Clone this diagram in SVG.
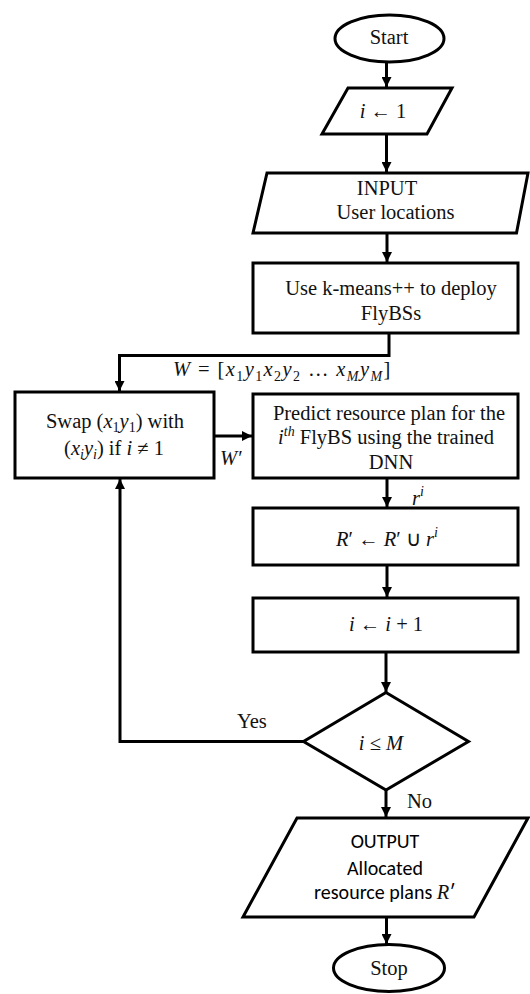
<svg xmlns="http://www.w3.org/2000/svg" width="530" height="994" viewBox="0 0 530 994">
  <defs>
    <marker id="arrow" markerUnits="userSpaceOnUse" markerWidth="10" markerHeight="10" refX="10" refY="5" orient="auto">
      <path d="M0,0 L10,5 L0,10 z" fill="#000"/>
    </marker>
  </defs>
  <style>
    .shape{fill:#fff;stroke:#000;stroke-width:3;stroke-linejoin:miter}
    .conn{fill:none;stroke:#000;stroke-width:3;marker-end:url(#arrow)}
    .t{font-family:"Liberation Serif","Times New Roman",serif;font-size:20.5px;fill:#111}
    .m{font-style:italic}
    .c{text-anchor:middle}
    .sub{font-size:14px}
    .wide{letter-spacing:1.4px}
    .sans{font-family:Carlito,Lato,"Liberation Sans",sans-serif;font-size:20px}
  </style>
  <rect width="530" height="994" fill="#fff"/>

  <!-- connectors -->
  <g id="connectors">
    <path class="conn" d="M386.5,62 V87"/>
    <path class="conn" d="M386.5,134 V172"/>
    <path class="conn" d="M387,233 V262"/>
    <path class="conn" d="M389,333 V355.5 H119.5 V391"/>
    <path class="conn" d="M214,436 H252"/>
    <path class="conn" d="M387,478 V507"/>
    <path class="conn" d="M387,565 V597"/>
    <path class="conn" d="M386,652 V692"/>
    <path class="conn" d="M304,741.5 H120 V479"/>
    <path class="conn" d="M386,790 V817"/>
    <path class="conn" d="M386.5,917 V944"/>
    <text class="t wide" x="173" y="376"><tspan class="m">W</tspan> = [<tspan class="m">x</tspan><tspan class="sub" dy="5">1</tspan><tspan class="m" dy="-5">y</tspan><tspan class="sub" dy="5">1</tspan><tspan class="m" dy="-5">x</tspan><tspan class="sub" dy="5">2</tspan><tspan class="m" dy="-5">y</tspan><tspan class="sub" dy="5">2</tspan><tspan dy="-5"> … </tspan><tspan class="m">x</tspan><tspan class="sub m" dy="5">M</tspan><tspan class="m" dy="-5">y</tspan><tspan class="sub m" dy="5">M</tspan><tspan dy="-5">]</tspan></text>
    <text class="t m" x="220" y="465">W′</text>
    <text class="t" x="412" y="505"><tspan class="m">r</tspan><tspan class="sub m" dy="-9">i</tspan></text>
    <text class="t" x="237" y="728">Yes</text>
    <text class="t" x="407" y="808">No</text>
  </g>

  <g id="start">
    <ellipse class="shape" cx="389.5" cy="38.5" rx="54.5" ry="23.5"/>
    <text class="t c" x="389" y="44">Start</text>
  </g>

  <g id="init">
    <polygon class="shape" points="348,88 452,88 427,134 322,134"/>
    <text class="t c" x="383" y="118"><tspan class="m">i</tspan> ← 1</text>
  </g>

  <g id="input">
    <polygon class="shape" points="267,173 528,173 516.5,233 253,233"/>
    <text class="t c" x="387" y="195">INPUT</text>
    <text class="t c" x="395.5" y="219">User locations</text>
  </g>

  <g id="kmeans">
    <rect class="shape" x="253" y="263" width="265" height="70"/>
    <text class="t c" x="391" y="295">Use k-means++ to deploy</text>
    <text class="t c" x="391" y="320">FlyBSs</text>
  </g>

  <g id="swap">
    <rect class="shape" x="15" y="392" width="199" height="86"/>
    <text class="t c" x="115" y="428">Swap (<tspan class="m">x</tspan><tspan class="sub" dy="4">1</tspan><tspan class="m" dy="-4">y</tspan><tspan class="sub" dy="4">1</tspan><tspan dy="-4">) with</tspan></text>
    <text class="t c" x="114" y="455">(<tspan class="m">x</tspan><tspan class="sub m" dy="4">i</tspan><tspan class="m" dy="-4">y</tspan><tspan class="sub m" dy="4">i</tspan><tspan dy="-4">) if </tspan><tspan class="m">i</tspan> ≠ 1</text>
  </g>

  <g id="predict">
    <rect class="shape" x="253" y="394" width="265" height="84"/>
    <text class="t c" x="389" y="419.5">Predict resource plan for the</text>
    <text class="t c" x="386" y="444"><tspan class="m">i</tspan><tspan class="sub m" dy="-8">th</tspan><tspan dy="8"> FlyBS using the trained</tspan></text>
    <text class="t c" x="391" y="469">DNN</text>
  </g>

  <g id="update">
    <rect class="shape" x="253" y="508" width="265" height="57"/>
    <text class="t c" x="387" y="546"><tspan class="m">R</tspan>′ ← <tspan class="m">R</tspan>′ ∪ <tspan class="m">r</tspan><tspan class="sub m" dy="-9">i</tspan></text>
  </g>

  <g id="increment">
    <rect class="shape" x="253" y="598" width="265" height="54"/>
    <text class="t c" x="386" y="631"><tspan class="m">i</tspan> ← <tspan class="m">i</tspan> + 1</text>
  </g>

  <g id="decision">
    <polygon class="shape" points="386,692.5 468.5,741.5 386,790 303.5,741.5"/>
    <text class="t c" x="381" y="750"><tspan class="m">i</tspan> ≤ <tspan class="m">M</tspan></text>
  </g>

  <g id="output">
    <polygon class="shape" points="297,818 528,818 474,917 243,917"/>
    <text class="sans c" x="385" y="848">OUTPUT</text>
    <text class="sans c" x="385" y="875">Allocated</text>
    <text class="sans c" x="385" y="899">resource plans <tspan class="t m">R</tspan>′</text>
  </g>

  <g id="stop">
    <ellipse class="shape" cx="389" cy="968" rx="55.5" ry="23.5"/>
    <text class="t c" x="389" y="975">Stop</text>
  </g>
</svg>
